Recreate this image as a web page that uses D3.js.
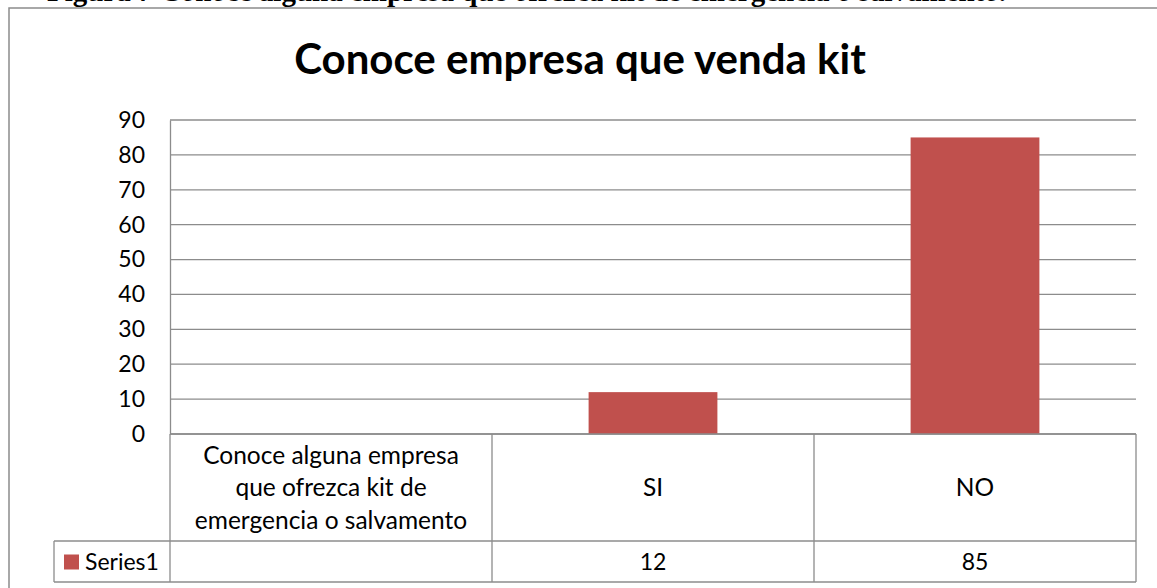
<!DOCTYPE html>
<html>
<head>
<style>
body { margin: 0; background: #fff; }
svg { display: block; }
.lbl { font-family: Lato, "Open Sans", sans-serif; fill: #000; }
</style>
</head>
<body>
<svg width="1157" height="588"></svg>
<script src="https://d3js.org/d3.v7.min.js"></script>
<script>

let caption = "Figura 7 Conoce alguna empresa que ofrezca kit de emergencia o salvamento.";
let title = "Conoce empresa que venda kit";
let categories = ["Conoce alguna empresa que ofrezca kit de emergencia o salvamento", "SI", "NO"];
let catLines = [["Conoce alguna empresa", "que ofrezca kit de", "emergencia o salvamento"], ["SI"], ["NO"]];
let seriesName = "Series1";
let values = [null, 12, 85];
let yTicks = [0, 10, 20, 30, 40, 50, 60, 70, 80, 90];

let grey = "#8c8c8c", barColor = "#c0504d";
let plotLeft = 170, plotRight = 1136, plotTop = 120, plotBase = 434;
let headBottom = 541, rowBottom = 582, legendLeft = 54;
let fs = "24.5px";

let svg = d3.select("svg");

// caption from the page above, cut off at the top
svg.append("text")
    .attr("x", 47).attr("y", 1)
    .style("font-family", "'Liberation Serif', serif")
    .style("font-weight", "bold")
    .style("font-size", "29px")
    .text(caption);

// outer chart frame
svg.append("rect")
    .attr("x", 9).attr("y", 8)
    .attr("width", 1200).attr("height", 600)
    .attr("fill", "none")
    .attr("stroke", grey).attr("stroke-width", 1.5);

svg.append("text")
    .attr("class", "lbl")
    .attr("x", 580).attr("y", 74)
    .attr("text-anchor", "middle")
    .style("font-weight", "bold")
    .style("font-size", "42px")
    .text(title);

let y = d3.scaleLinear().domain([0, 90]).range([plotBase, plotTop]);
let x = d3.scaleBand().domain(categories).range([plotLeft, plotRight]).padding(0);

// gridlines
svg.append("g").selectAll("line").data(yTicks).join("line")
    .attr("x1", plotLeft).attr("x2", plotRight)
    .attr("y1", d => y(d)).attr("y2", d => y(d))
    .attr("stroke", grey).attr("stroke-width", 1.3);

// y axis
let yAxis = svg.append("g")
    .attr("transform", "translate(" + plotLeft + ",0)")
    .call(d3.axisLeft(y).tickValues(yTicks).tickSize(0).tickPadding(25));
yAxis.select(".domain").attr("stroke", grey).attr("stroke-width", 1.3);
yAxis.selectAll("text")
    .attr("class", "lbl")
    .style("font-size", "23px");

// bars
let bw = x.bandwidth() * 0.4;
svg.append("g").selectAll("rect")
    .data(categories.map((c, i) => ({ cat: c, v: values[i] })).filter(d => d.v != null))
    .join("rect")
    .attr("x", d => x(d.cat) + (x.bandwidth() - bw) / 2)
    .attr("y", d => y(d.v))
    .attr("width", bw)
    .attr("height", d => y(0) - y(d.v))
    .attr("fill", barColor);

// data table
let tbl = svg.append("g").attr("stroke", grey).attr("stroke-width", 1.3);
tbl.append("line").attr("x1", plotLeft).attr("x2", plotRight).attr("y1", plotBase).attr("y2", plotBase);
tbl.append("line").attr("x1", legendLeft).attr("x2", plotRight).attr("y1", headBottom).attr("y2", headBottom);
tbl.append("line").attr("x1", legendLeft).attr("x2", plotRight).attr("y1", rowBottom).attr("y2", rowBottom);
tbl.append("line").attr("x1", legendLeft).attr("x2", legendLeft).attr("y1", headBottom).attr("y2", rowBottom);
tbl.append("line").attr("x1", plotLeft).attr("x2", plotLeft).attr("y1", plotBase).attr("y2", rowBottom);
tbl.selectAll(".sep").data(categories).join("line")
    .attr("class", "sep")
    .attr("x1", d => x(d) + x.bandwidth()).attr("x2", d => x(d) + x.bandwidth())
    .attr("y1", plotBase).attr("y2", rowBottom);

// category labels
let lineH = 32.5, headMid = (plotBase + headBottom) / 2;
categories.forEach(function(c, i) {
    let lines = catLines[i];
    svg.append("g").selectAll("text").data(lines).join("text")
        .attr("class", "lbl")
        .attr("x", x(c) + x.bandwidth() / 2)
        .attr("y", (d, j) => headMid + (j - (lines.length - 1) / 2) * lineH)
        .attr("dy", "0.35em")
        .attr("text-anchor", "middle")
        .style("font-size", fs)
        .text(d => d);
});

// value row
let rowMid = (headBottom + rowBottom) / 2;
svg.append("g").selectAll("text")
    .data(categories.map((c, i) => ({ cat: c, v: values[i] })).filter(d => d.v != null))
    .join("text")
    .attr("class", "lbl")
    .attr("x", d => x(d.cat) + x.bandwidth() / 2)
    .attr("y", rowMid).attr("dy", "0.35em")
    .attr("text-anchor", "middle")
    .style("font-size", "23px")
    .text(d => d.v);

// legend key in the table
svg.append("rect")
    .attr("x", 64).attr("y", rowMid - 7)
    .attr("width", 15).attr("height", 15)
    .attr("fill", barColor);
svg.append("text")
    .attr("class", "lbl")
    .attr("x", 85).attr("y", rowMid).attr("dy", "0.35em")
    .style("font-size", "23px")
    .text(seriesName);

</script>
</body>
</html>
